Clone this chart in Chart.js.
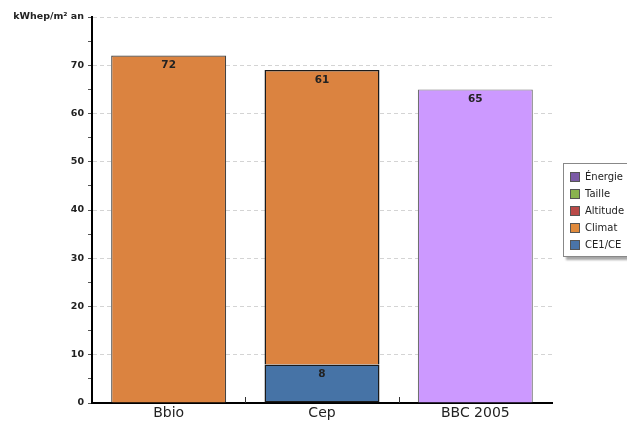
<!DOCTYPE html>
<html>
<head>
<meta charset="utf-8">
<script src="https://cdn.jsdelivr.net/npm/chart.js@4/dist/chart.umd.min.js"></script>
<style>
  html, body { margin: 0; padding: 0; background: #fff; overflow: hidden; }
  #wrap { position: relative; width: 627px; height: 422px; }
  #legend {
    position: absolute; left: 563px; top: 163px; width: 80px; height: 94px;
    border: 1px solid #888; background: #fff; box-shadow: 3px 3px 2px rgba(0,0,0,0.35);
    font-family: "DejaVu Sans", sans-serif; font-size: 10px; color: #222;
    box-sizing: border-box; padding-top: 4px;
  }
  #legend .row { height: 17px; display: flex; align-items: center; padding-left: 6px; }
  #legend .sw { width: 8px; height: 8px; border: 1px solid #555; margin-right: 5px; flex: none; }
</style>
</head>
<body>
<div id="wrap">
  <canvas id="c" width="627" height="422"></canvas>
  <div id="legend"></div>
</div>
<script>
// Categories and values
const categories = ['Bbio', 'Cep', 'BBC 2005'];
const ce1ce = [null, 8, null];
const climat = [72, 61, null];
const bbc2005 = [null, null, 65];
const yMax = 80;
const unitLabel = 'kWhep/m² an';

// Legend entries
const legendNames = ['Énergie', 'Taille', 'Altitude', 'Climat', 'CE1/CE'];
const legendColors = ['#7b5aa6', '#8ab34f', '#b94a48', '#e08a3c', '#4a74a8'];

const legendEl = document.getElementById('legend');
legendNames.forEach((n, i) => {
  const row = document.createElement('div');
  row.className = 'row';
  row.innerHTML = '<span class="sw" style="background:' + legendColors[i] + '"></span><span>' + n + '</span>';
  legendEl.appendChild(row);
});

// Value labels inside the top of each bar segment
const valueLabels = {
  id: 'valueLabels',
  afterDatasetsDraw(chart) {
    const ctx = chart.ctx;
    ctx.save();
    ctx.font = 'bold 10.5px "DejaVu Sans", sans-serif';
    ctx.fillStyle = '#222';
    ctx.textAlign = 'center';
    ctx.textBaseline = 'middle';
    chart.data.datasets.forEach((ds, di) => {
      const meta = chart.getDatasetMeta(di);
      meta.data.forEach((bar, i) => {
        const v = ds.data[i];
        if (v == null) return;
        ctx.fillText(String(v), bar.x, bar.y + 10);
      });
    });
    ctx.restore();
  }
};

// Short upward tick marks between categories on the x axis
const categoryTicks = {
  id: 'categoryTicks',
  afterDraw(chart) {
    const x = chart.scales.x;
    const ctx = chart.ctx;
    ctx.save();
    ctx.strokeStyle = '#333';
    ctx.lineWidth = 1;
    for (let i = 1; i < categories.length; i++) {
      const px = Math.round((x.getPixelForValue(i - 1) + x.getPixelForValue(i)) / 2) + 0.5;
      ctx.beginPath();
      ctx.moveTo(px, x.top - 6);
      ctx.lineTo(px, x.top);
      ctx.stroke();
    }
    ctx.restore();
  }
};

new Chart(document.getElementById('c'), {
  type: 'bar',
  data: {
    labels: categories,
    datasets: [
      { label: 'CE1/CE', data: ce1ce, backgroundColor: '#4673a6', borderColor: '#1a1a1a', borderWidth: 1.5, borderSkipped: false },
      { label: 'Climat', data: climat, backgroundColor: '#db8340', borderColor: ['#444', '#1a1a1a', '#1a1a1a'], borderWidth: [1.2, 1.5, 1.5], borderSkipped: 'bottom' },
      { label: 'BBC 2005', data: bbc2005, backgroundColor: '#cc99ff', borderColor: '#707070', borderWidth: 1.2, borderSkipped: 'bottom' }
    ]
  },
  options: {
    responsive: false,
    animation: false,
    layout: { padding: { top: 17, right: 75, left: 0, bottom: 0 } },
    datasets: { bar: { barPercentage: 0.75, categoryPercentage: 1, skipNull: false } },
    plugins: { legend: { display: false }, tooltip: { enabled: false } },
    scales: {
      x: {
        stacked: true,
        afterFit(s) { s.height = 19; },
        grid: { display: false, drawTicks: false },
        border: { display: true, color: '#000', width: 2 },
        ticks: { color: '#222', padding: 2, font: { family: '"DejaVu Sans", sans-serif', size: 14 } }
      },
      y: {
        stacked: true,
        min: 0, max: yMax,
        afterFit(s) { s.width = 92; },
        border: { display: true, color: '#000', width: 2, dash: [4, 3] },
        grid: {
          color: (c) => (c.tick && c.tick.value % 10 === 0 && c.tick.value !== 0) ? '#d4d4d4' : 'rgba(0,0,0,0)',
          tickColor: '#555',
          tickLength: 4,
          tickBorderDash: [],
          lineWidth: 1
        },
        ticks: {
          stepSize: 5,
          padding: 4,
          color: '#222',
          font: { family: '"DejaVu Sans", sans-serif', size: 9.5, weight: 'bold' },
          callback: (v) => v === yMax ? unitLabel : (v % 10 === 0 ? String(v) : '')
        }
      }
    }
  },
  plugins: [valueLabels, categoryTicks]
});
</script>
</body>
</html>
